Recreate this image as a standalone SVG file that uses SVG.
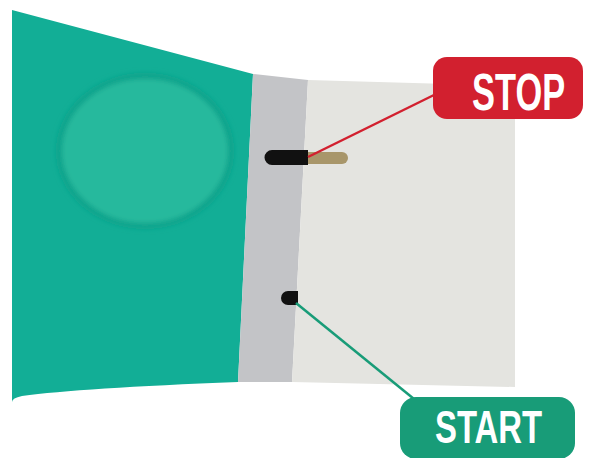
<svg xmlns="http://www.w3.org/2000/svg" width="601" height="458" viewBox="0 0 601 458">
<style>
.lbl{font-family:"Liberation Sans","DejaVu Sans",sans-serif;font-weight:bold;fill:#ffffff}
.conn{fill:none;stroke-width:2.5}
</style>
<defs>
<filter id="blur" x="-20%" y="-20%" width="140%" height="140%"><feGaussianBlur stdDeviation="2.5"/></filter>
</defs>
<rect width="601" height="458" fill="#ffffff"/>
<g id="device">
<path d="M12,10 L253,74 L238,382 Q80,388 22,396 Q12,398 12,402 Z" fill="#12ae96"/>
<ellipse cx="145" cy="151" rx="86" ry="75" fill="#28b99d" stroke="#10a38b" stroke-width="6" filter="url(#blur)"/>
<polygon points="253,74 308,80 292,382 238,382" fill="#c3c4c7"/>
<polygon points="308,80 515,86 515,387 292,382" fill="#e4e4e0"/>
</g>
<g id="stop-marker">
<rect x="300" y="152" width="48" height="12" rx="6" fill="#a8966a"/>
<path d="M308,150 L272,150 A7.5,7.5 0 0 0 272,165 L308,165 Z" fill="#111111"/>
</g>
<g id="start-marker">
<path d="M298,291 L288,291 A7,7 0 0 0 288,305 L298,305 Z" fill="#111111"/>
</g>
<g id="connectors">
<line class="conn" x1="308" y1="157" x2="438" y2="93" stroke="#d2202f"/>
<line class="conn" x1="296" y1="303" x2="414" y2="399" stroke="#189c78"/>
</g>
<g id="stop-label">
<rect x="433" y="57" width="150" height="62" rx="14" fill="#d2202f"/>
<text class="lbl" transform="translate(472,110) scale(0.68,1)" x="0" y="0" font-size="52" textLength="137" lengthAdjust="spacingAndGlyphs">STOP</text>
</g>
<g id="start-label">
<rect x="400" y="397" width="175" height="62" rx="16" fill="#189c78"/>
<text class="lbl" transform="translate(435,443) scale(0.7,1)" x="0" y="0" font-size="46" textLength="153" lengthAdjust="spacingAndGlyphs">START</text>
</g>
</svg>
